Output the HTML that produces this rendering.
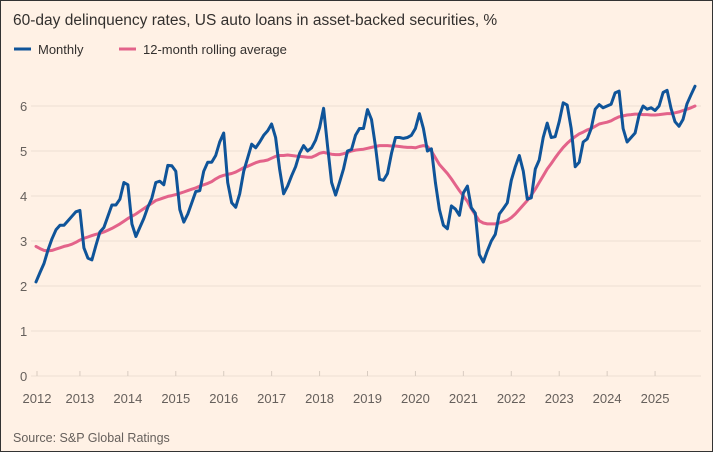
<!DOCTYPE html>
<html><head><meta charset="utf-8"><style>
body{margin:0;background:#fff1e5;}
#wrap{position:relative;width:711px;height:450px;border:1px solid #333;background:#fff1e5;font-family:"Liberation Sans",sans-serif;overflow:hidden}
</style></head><body>
<div id="wrap">
<svg id="svg" width="711" height="450">
<text x="12" y="24" font-size="15.5" fill="#33302e">60-day delinquency rates, US auto loans in asset-backed securities, %</text>
<g>
<line x1="13" y1="48" x2="30" y2="48" stroke="#0f5499" stroke-width="3"/>
<text x="37" y="53" font-size="13" fill="#33302e">Monthly</text>
<line x1="118" y1="48" x2="135" y2="48" stroke="#e3638a" stroke-width="3"/>
<text x="142" y="53" font-size="13" fill="#33302e">12-month rolling average</text>
</g>
<g id="grid"></g><g id="axes"></g><g id="series"></g>
<text x="12" y="441" font-size="12.5" fill="#66605c">Source: S&amp;P Global Ratings</text>
</svg></div>
<script>
const monthly=[2.09,2.3,2.5,2.8,3.05,3.25,3.35,3.35,3.45,3.55,3.65,3.68,
2.85,2.62,2.58,2.9,3.2,3.3,3.55,3.8,3.8,3.93,4.3,4.25,
3.38,3.1,3.3,3.5,3.75,3.95,4.3,4.33,4.25,4.68,4.67,4.55,
3.7,3.42,3.6,3.85,4.1,4.12,4.55,4.75,4.75,4.9,5.2,5.4,
4.3,3.85,3.75,4.05,4.55,4.85,5.15,5.07,5.2,5.35,5.45,5.6,
5.3,4.6,4.05,4.22,4.45,4.65,4.95,5.12,5.0,5.07,5.24,5.52,
5.95,5.1,4.3,4.02,4.3,4.6,5.0,5.03,5.35,5.5,5.5,5.92,
5.7,5.1,4.37,4.35,4.5,4.95,5.3,5.3,5.28,5.3,5.35,5.5,
5.83,5.5,5.0,5.05,4.3,3.7,3.35,3.27,3.78,3.71,3.57,4.07,
4.22,3.74,3.62,2.7,2.53,2.78,3.0,3.15,3.6,3.72,3.85,4.35,
4.65,4.9,4.55,3.93,3.96,4.6,4.8,5.3,5.62,5.3,5.32,5.65,
6.07,6.02,5.5,4.65,4.75,5.2,5.27,5.5,5.93,6.03,5.96,6.0,
6.04,6.29,6.33,5.5,5.2,5.3,5.4,5.8,6.0,5.93,5.96,5.9,
6.0,6.3,6.35,5.95,5.65,5.55,5.7,6.05,6.25,6.44];
const rolling=[2.88,2.83,2.79,2.78,2.79,2.82,2.85,2.88,2.9,2.93,2.97,3.02,
3.06,3.09,3.12,3.15,3.17,3.2,3.24,3.28,3.33,3.38,3.44,3.5,
3.55,3.6,3.66,3.72,3.78,3.84,3.9,3.93,3.96,3.99,4.01,4.03,
4.06,4.09,4.12,4.15,4.18,4.22,4.25,4.28,4.32,4.38,4.43,4.46,
4.48,4.5,4.53,4.58,4.63,4.66,4.7,4.74,4.77,4.78,4.8,4.84,
4.88,4.9,4.9,4.91,4.9,4.89,4.88,4.87,4.86,4.86,4.9,4.95,
4.97,4.95,4.93,4.92,4.92,4.94,4.97,5.0,5.02,5.03,5.04,5.06,
5.08,5.1,5.12,5.12,5.12,5.11,5.11,5.1,5.09,5.08,5.08,5.07,
5.1,5.12,5.1,5.0,4.85,4.7,4.6,4.5,4.38,4.25,4.12,4.0,
3.88,3.72,3.58,3.45,3.4,3.38,3.38,3.38,3.4,3.43,3.46,3.52,
3.6,3.7,3.8,3.9,4.02,4.15,4.3,4.45,4.6,4.72,4.85,4.97,
5.08,5.17,5.25,5.32,5.38,5.42,5.47,5.5,5.55,5.6,5.62,5.64,
5.67,5.72,5.76,5.78,5.8,5.81,5.82,5.82,5.81,5.81,5.8,5.8,
5.81,5.82,5.83,5.83,5.85,5.87,5.9,5.93,5.96,6.0];
const yTicks=[0,1,2,3,4,5,6];
const years=[2012,2013,2014,2015,2016,2017,2018,2019,2020,2021,2022,2023,2024,2025];
const NS='http://www.w3.org/2000/svg';
const x=i=>35+i*3.994;
const xy=yr=>Math.max(36,x((yr-2012)*12-1));
const y=v=>375-v*45;
function mk(t,a,p){const e=document.createElementNS(NS,t);for(const k in a)e.setAttribute(k,a[k]);p.appendChild(e);return e;}
const grid=document.getElementById('grid'),axes=document.getElementById('axes'),ser=document.getElementById('series');
yTicks.forEach(v=>{
 const l=mk('line',{x1:30,x2:700,y1:y(v),y2:y(v),stroke:'#ecdfd3','stroke-width':1},grid);
 
 
 const t=mk('text',{x:19,y:y(v)+5,'font-size':13,fill:'#66605c'},axes);t.textContent=v;
 
 
});
years.forEach(yr=>{
 const tk=mk('line',{x1:xy(yr),x2:xy(yr),y1:375,y2:370,stroke:'#d8cbc0','stroke-width':1},axes);
 
 
 const t=mk('text',{x:xy(yr),y:402,'font-size':13,fill:'#66605c','text-anchor':'middle'},axes);t.textContent=yr;
 
 
});
function line(arr,col,name){
 const d=arr.map((v,i)=>(i?'L':'M')+x(i).toFixed(1)+','+y(v).toFixed(1)).join('');
 const p=mk('path',{d:d,fill:'none',stroke:col,'stroke-width':3,'stroke-linejoin':'round','stroke-linecap':'round'},ser);
 
 
}
line(rolling,'#e3638a','rolling-average-line');
line(monthly,'#0f5499','monthly-line');
</script>
</body></html>
